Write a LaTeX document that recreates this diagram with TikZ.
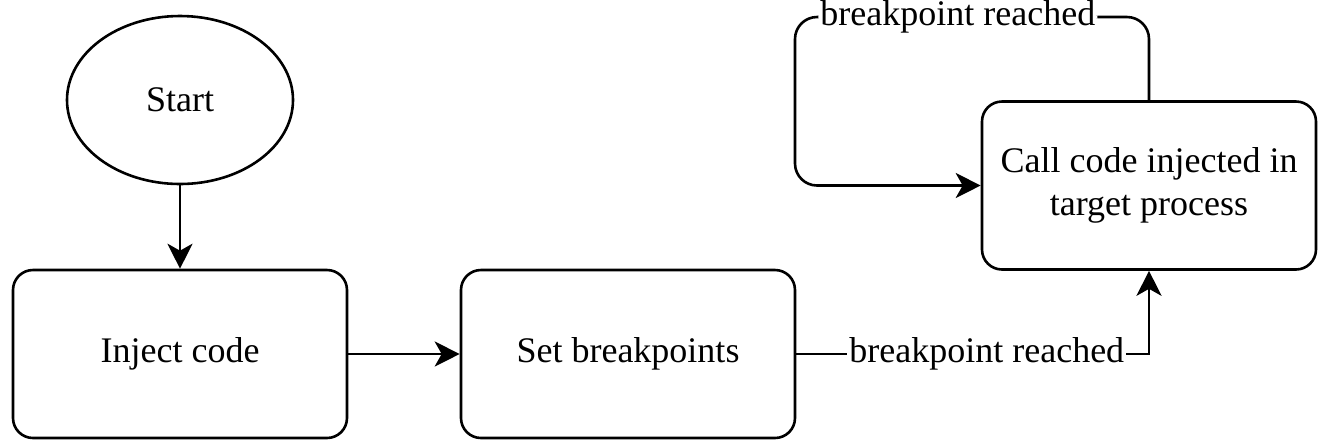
\documentclass[tikz,border=0pt]{standalone}
\usepackage{fontspec}
\setmainfont{Liberation Serif}
\usetikzlibrary{shapes.geometric,arrows.meta}
\tikzset{
  every node/.style={font=\fontsize{18}{21.5}\selectfont},
  stepbox/.style={draw, line width=1.3pt, rounded corners=10pt, minimum width=167pt, minimum height=84pt, inner sep=0pt, align=center},
  startnode/.style={draw, ellipse, line width=1.3pt, minimum width=113pt, minimum height=84pt, inner sep=0pt},
  arr/.style={line width=1.3pt, -{Stealth[length=12.5pt,width=12.5pt,inset=3.5pt]}},
  lbl/.style={fill=white, inner sep=1pt}
}
\begin{document}
\begin{tikzpicture}[x=0.5pt,y=-0.5pt]
\useasboundingbox (0,0) rectangle (1319,441);
% process nodes
\node[startnode] (start) at (180,100) {Start};
\node[stepbox] (inject) at (180,354) {Inject code};
\node[stepbox] (setbp) at (628,354) {Set breakpoints};
\node[stepbox] (call) at (1149,185.5) {Call code injected in\\target process};
% corner of the self loop
\coordinate (looptop) at (795,17);
% connectors
\draw[arr] (start) -- (inject);
\draw[arr] (inject) -- (setbp);
\draw[arr] (setbp.east) -| node[lbl, pos=0.27] {breakpoint reached} (call.south);
\draw[arr, rounded corners=11pt] (call.north) |- node[lbl, pos=0.77] {breakpoint reached} (looptop) |- (call.west);
\end{tikzpicture}
\end{document}
